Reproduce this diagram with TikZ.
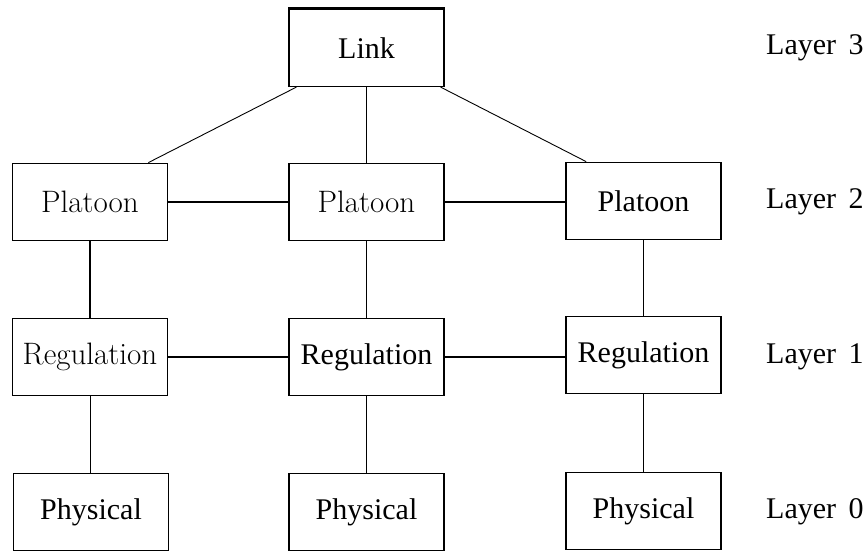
\documentclass[tikz,border=0pt]{standalone}
\usepackage{fontspec}
\setmainfont{Liberation Serif}
\newfontfamily\timesfam{Liberation Serif}
\newcommand{\boxtext}{\timesfam\fontsize{30}{36}\selectfont}
\newcommand{\lmtext}{\fontfamily{lmr}\fontseries{m}\fontsize{31}{37}\selectfont}
\begin{document}
\begin{tikzpicture}[x=1pt,y=-1pt,
  box/.style={draw,line width=1.8pt,minimum width=155pt,minimum height=77pt,
              inner sep=0pt,font=\boxtext},
  lmbox/.style={box,font=\lmtext},
  layer/.style={anchor=west,inner sep=0pt,font=\boxtext},
  thick link/.style={line width=1.8pt},
  thin link/.style={line width=0.9pt}]
\useasboundingbox (0,0) rectangle (864,551);

% Layer 3
\node[box,line width=1.2pt] (link) at (366.5,48) {Link};
\draw[line width=3pt] (link.north west) -- (link.north east);
% Layer 2
\node[lmbox] (pl1) at (90,202) {Platoon};
\node[lmbox] (pl2) at (366.5,202) {Platoon};
\node[box]   (pl3) at (643.5,201) {Platoon};
% Layer 1
\node[lmbox] (re1) at (90,357) {Regulation};
\node[box]   (re2) at (366.5,357) {Regulation};
\node[box]   (re3) at (643.5,355) {Regulation};
% Layer 0
\node[box] (ph1) at (91,512) {Physical};
\node[box] (ph2) at (366.5,512) {Physical};
\node[box] (ph3) at (643.5,511) {Physical};

% layer captions
\node[layer] (l3) at (766,48)  {Layer\, 3};
\node[layer] (l2) at (766,202) {Layer\, 2};
\node[layer] (l1) at (766,357) {Layer\, 1};
\node[layer] (l0) at (766,512) {Layer\, 0};

% link to platoons
\draw[thin link] ([xshift=8pt]link.south west) -- ([xshift=-20pt]pl1.north east);
\draw[thin link] (link.south) -- (pl2.north);
\draw[thin link] ([xshift=-4pt]link.south east) -- ([xshift=21pt]pl3.north west);

% horizontal couplings
\draw[thick link] (pl1.east) -- (pl2.west);
\draw[thick link] (pl2.east) -- (pl2.east -| pl3.west);
\draw[thick link] (re1.east) -- (re2.west);
\draw[thick link] (re2.east) -- (re2.east -| re3.west);

% vertical couplings
\draw[thick link] (pl1.south) -- (re1.north);
\draw[thick link] (pl2.south) -- (re2.north);
\draw[thick link] (pl3.south) -- (re3.north);
\draw[thin link] (re1.south) -- (re1.south |- ph1.north);
\draw[thick link] (re2.south) -- (ph2.north);
\draw[thick link] (re3.south) -- (ph3.north);
\end{tikzpicture}
\end{document}
